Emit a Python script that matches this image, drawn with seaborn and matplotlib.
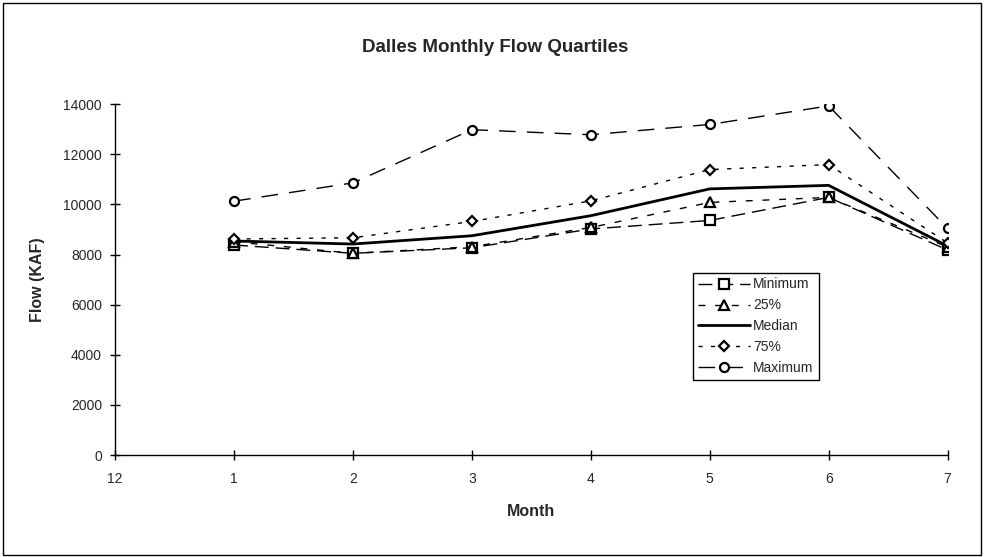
import matplotlib
matplotlib.use("Agg")
import matplotlib.pyplot as plt
import seaborn as sns
from matplotlib.patches import Rectangle

# --- DATA ---
months = [1, 2, 3, 4, 5, 6, 7]
month_tick_pos = [0, 1, 2, 3, 4, 5, 6, 7]
month_tick_labels = ['12', '1', '2', '3', '4', '5', '6', '7']
flow_ticks = [0, 2000, 4000, 6000, 8000, 10000, 12000, 14000]

minimum = [8380, 8050, 8270, 9020, 9360, 10280, 8180]
q25 = [8510, 8050, 8310, 9080, 10080, 10280, 8300]
median = [8540, 8420, 8750, 9550, 10620, 10760, 8340]
q75 = [8620, 8670, 9320, 10140, 11390, 11590, 8460]
maximum = [10130, 10860, 12980, 12780, 13190, 13930, 9040]

series_names = ['Minimum', '25%', 'Median', '75%', 'Maximum']
series_values = [minimum, q25, median, q75, maximum]

# --- STYLE ---
sns.set_style('white')
plt.rcParams['font.family'] = ['Liberation Sans', 'DejaVu Sans']

styles = {
    'Minimum': dict(marker='s', lw=1.0, linestyle=(0, (10, 5))),
    '25%': dict(marker='^', lw=1.0, linestyle=(0, (5, 7))),
    'Median': dict(marker='', lw=2.0, linestyle='-'),
    '75%': dict(marker='D', lw=1.0, linestyle=(0, (3, 6)), markersize=5.5),
    'Maximum': dict(marker='o', lw=1.0, linestyle=(0, (12, 8))),
}

fig = plt.figure(figsize=(9.84, 5.57), dpi=100)
ax = fig.add_axes([0.117, 0.183, 0.846, 0.630])

for name, vals in zip(series_names, series_values):
    kw = dict(styles[name])
    kw.setdefault('markersize', 6.5)
    sns.lineplot(x=months, y=vals, ax=ax, color='black', label=name,
                 markerfacecolor='white', markeredgecolor='black',
                 markeredgewidth=1.6, **kw)

ax.set_xlim(0, 7)
ax.set_ylim(0, 14000)
ax.set_xticks(month_tick_pos)
ax.set_xticklabels(month_tick_labels)
ax.set_yticks(flow_ticks)
ax.tick_params(axis='both', direction='inout', length=7, width=1,
               color='black', labelsize=10, left=True, bottom=True)
ax.tick_params(axis='x', pad=9)
ax.tick_params(axis='y', pad=6)

for side in ['top', 'right']:
    ax.spines[side].set_visible(False)
for side in ['left', 'bottom']:
    ax.spines[side].set_color('black')
    ax.spines[side].set_linewidth(1)

ax.set_xlabel('Month', fontsize=11.5, fontweight='bold', labelpad=13)
ax.set_ylabel('Flow (KAF)', fontsize=11.5, fontweight='bold', labelpad=13)
fig.text(0.503, 0.914, 'Dalles Monthly Flow Quartiles', ha='center', va='center',
         fontsize=13.5, fontweight='bold')

leg = ax.legend(loc='upper left', bbox_to_anchor=(0.694, 0.52), fontsize=10,
                frameon=True, fancybox=False, edgecolor='black', framealpha=1,
                handlelength=3.8, handletextpad=0.2, borderpad=0.35,
                labelspacing=0.5, borderaxespad=0)
leg.get_frame().set_linewidth(1)

# outer chart border
fig.patches.append(Rectangle((0.003, 0.003), 0.994, 0.992, transform=fig.transFigure,
                             fill=False, edgecolor='black', linewidth=1))

fig.savefig('out.png', dpi=100)
